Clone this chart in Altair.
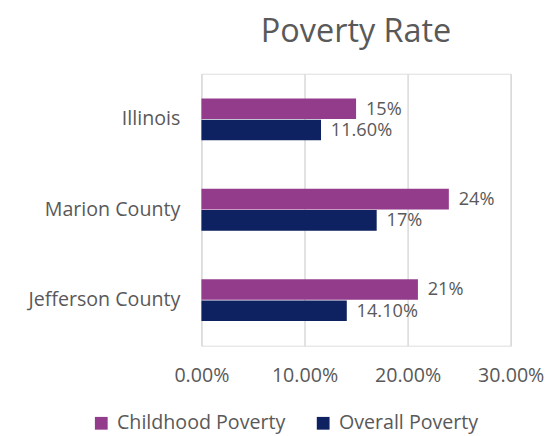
import altair as alt
import pandas as pd

regions = ["Illinois", "Marion County", "Jefferson County"]
series = ["Childhood Poverty", "Overall Poverty"]
childhood = [0.15, 0.24, 0.21]
overall = [0.116, 0.17, 0.141]
child_labels = ["15%", "24%", "21%"]
overall_labels = ["11.60%", "17%", "14.10%"]
colors = ["#943c8c", "#0e2161"]

rows = []
for i, r in enumerate(regions):
    rows.append({"region": r, "series": series[0], "value": childhood[i], "label": child_labels[i]})
    rows.append({"region": r, "series": series[1], "value": overall[i], "label": overall_labels[i]})
df = pd.DataFrame(rows)

FONT = "Open Sans"
GREY = "#595959"
FS = 20

y = alt.Y("region:N", sort=regions, title=None,
          scale=alt.Scale(paddingInner=0.53, paddingOuter=0.27),
          axis=alt.Axis(domain=False, ticks=False, labelFontSize=FS, labelColor=GREY,
                        labelFont=FONT, labelPadding=22, labelLimit=300))
yoff = alt.YOffset("series:N", sort=series, scale=alt.Scale(paddingInner=0.0))
x = alt.X("value:Q", title=None,
          scale=alt.Scale(domain=[0, 0.3], nice=False),
          axis=alt.Axis(format=".2%", values=[0, 0.1, 0.2, 0.3], domain=False, ticks=False,
                        labelFontSize=FS, labelColor=GREY, labelFont=FONT, labelPadding=20,
                        labelFlush=False, labelOverlap=False,
                        gridColor="#d9d9d9", gridWidth=1.5))
color = alt.Color("series:N", sort=series, title=None,
                  scale=alt.Scale(domain=series, range=colors),
                  legend=alt.Legend(orient="none", legendX=-112, legendY=346, direction="horizontal",
                                    symbolType="square", symbolSize=169, symbolStrokeWidth=0,
                                    labelFontSize=FS, labelColor=GREY, labelFont=FONT,
                                    labelLimit=300, columnPadding=28, labelOffset=6))

bars = alt.Chart(df).mark_bar(size=21).encode(y=y, yOffset=yoff, x=x, color=color)
text = alt.Chart(df).mark_text(align="left", baseline="middle", dx=10, fontSize=18.5,
                               color=GREY, font=FONT).encode(y=y, yOffset=yoff, x=x, text="label:N")

chart = (bars + text).properties(
    width=315, height=277,
    title=alt.TitleParams("Poverty Rate", fontSize=33, color=GREY, font=FONT,
                          fontWeight="normal", anchor="middle", offset=25),
).configure_view(stroke=None).configure(background="white", padding={"left": 20, "top": 5, "right": 5, "bottom": 0})

chart.save("out.html", embed_options={"renderer": "svg", "actions": False})
